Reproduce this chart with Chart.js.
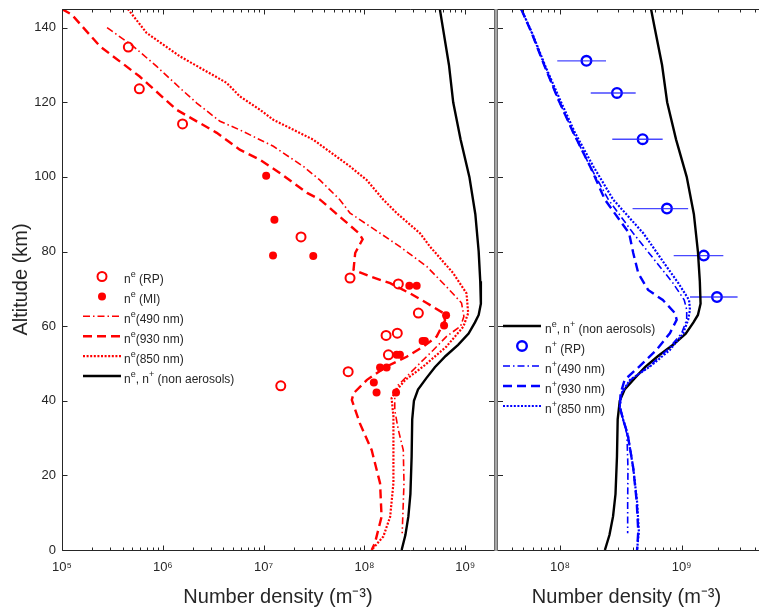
<!DOCTYPE html>
<html><head><meta charset="utf-8">
<script src="https://cdn.jsdelivr.net/npm/chart.js@4/dist/chart.umd.min.js"></script>
<style>html,body{margin:0;padding:0;background:#fff}#wrap{width:759px;height:616px;position:relative}</style>
</head><body><div id="wrap"><canvas id="c" width="759" height="616"></canvas></div>
<script>
// ---------- data (altitude in km, number density in m^-3) ----------
const altTicks = [0,20,40,60,80,100,120,140];
const xTicksLeft = [1e5,1e6,1e7,1e8,1e9];
const xTicksRight = [1e8,1e9];

// non aerosols n^e, n^+ (both panels)
const altBase = [145,140,130,120,110,100,90,80,72,66,63,61,58,55,52,49,46,43,40,35,25,15,9,4,0];
const nBase = [5.6e8,6.0e8,6.9e8,7.6e8,9.0e8,1.1e9,1.26e9,1.36e9,1.41e9,1.43e9,1.36e9,1.25e9,1.08e9,8.5e8,6.4e8,5.0e8,4.1e8,3.4e8,3.1e8,2.98e8,2.94e8,2.86e8,2.73e8,2.55e8,2.34e8];

// n^e 490 nm
const alt490 = [140,135,129.6,123.4,119.8,114.9,112.6,108.2,102.8,99.2,93.9,90.3,84.9,81.3,76,70.6,66.2,62.6,60,57.2,53.6,50.1,46.5,43.8,41.1,37.5,32.2,26.8,17.9,4.5];
const ne490 = [2.8e5,5.1e5,8.7e5,1.54e6,2.17e6,3.69e6,5.8e6,1.25e7,2.48e7,3.6e7,5.7e7,7.2e7,1.43e8,2.25e8,4.15e8,6.5e8,9.2e8,9.7e8,9.0e8,6.5e8,4.83e8,3.56e8,2.63e8,2.09e8,2.0e8,2.0e8,2.17e8,2.43e8,2.47e8,2.37e8];

// n^e 930 nm
const alt930 = [145,143.5,135,126.9,118,111.8,107.3,104.6,101,95.7,93.9,88.5,84.9,83.3,79.6,75.1,73.3,71.5,68.8,66.2,63.5,61.5,57.2,54.5,51.8,49.2,45.6,42,40.2,34,26.8,17.9,8.9,1.8,0];
const ne930 = [1.0e5,1.25e5,2.38e5,5.9e5,1.37e6,3.43e6,5.8e6,9.2e6,1.46e7,2.7e7,3.63e7,6.2e7,8.8e7,9.6e7,8.1e7,7.8e7,1.14e8,1.8e8,2.83e8,4.15e8,6.07e8,6.3e8,5.2e8,3.84e8,2.63e8,1.66e8,1.06e8,7.8e7,7.5e7,9.0e7,1.18e8,1.43e8,1.48e8,1.27e8,1.18e8];

// n^e 850 nm
const alt850 = [145,138.6,132.3,125.2,121.6,118,115.3,110,102.8,99.2,93.9,90.3,84.9,81.3,74.2,68.8,63.5,59.9,54.5,49.2,45.6,42.9,40.7,35.8,26.8,17.9,8.9,3.6,0];
const ne850 = [4.5e5,6.9e5,1.48e6,4.3e6,5.8e6,9.2e6,1.25e7,3.1e7,7.2e7,1.05e8,1.54e8,2.09e8,3.56e8,4.48e8,7.6e8,1.03e9,1.07e9,9.6e8,6.5e8,3.84e8,2.55e8,2.09e8,1.86e8,1.94e8,1.94e8,1.94e8,1.8e8,1.54e8,1.18e8];

// n^e measurements
const altRP = [134.8,123.6,114.2,83.9,72.9,71.3,63.5,58.1,57.5,52.3,47.8,44.0];
const neRP = [4.55e5,5.85e5,1.57e6,2.35e7,7.2e7,2.17e8,3.43e8,2.12e8,1.64e8,1.73e8,6.9e7,1.48e7];
const altMI = [100.3,88.5,78.9,78.8,70.8,70.8,62.9,60.2,56,56,52.3,52.3,48.9,48.9,44.9,42.2,42.2];
const neMI = [1.06e7,1.28e7,1.24e7,3.11e7,2.79e8,3.30e8,6.46e8,6.17e8,3.78e8,3.98e8,2.09e8,2.25e8,1.43e8,1.66e8,1.24e8,1.32e8,2.06e8];

// n^+ measurements (RP) with ranges
const altPRP = [131.1,122.5,110.1,91.5,78.9,67.8];
const npRP = [1.65e8,2.94e8,4.78e8,7.57e8,1.52e9,1.95e9];
const npLo = [9.5e7,1.79e8,2.69e8,3.95e8,8.6e8,1.17e9];
const npHi = [2.39e8,4.19e8,6.98e8,1.13e9,2.2e9,2.88e9];

// n^+ model curves
const altP490 = [145,138.6,129.6,120.7,111.8,102.8,93.9,84.9,76,71.5,67,64.4,61.7,58.1,53.6,49.2,45.6,42,38.4,35,31,22,13,4.5];
const np490 = [4.8e7,5.85e7,7.5e7,9.7e7,1.29e8,1.77e8,2.5e8,4.0e8,6.6e8,8.5e8,1.05e9,1.1e9,1.1e9,1.0e9,7.6e8,5.4e8,3.8e8,3.2e8,3.1e8,3.3e8,3.55e8,3.62e8,3.6e8,3.6e8];
const altP930 = [145,138.6,129.6,120.7,111.8,102.8,93.9,84.9,79.6,74.2,69.7,67,63.5,61.7,58.1,53.6,49.2,45.6,42,38.4,35,31,22,13,5,0];
const np930 = [4.8e7,5.85e7,7.5e7,9.7e7,1.29e8,1.77e8,2.34e8,3.7e8,4.0e8,4.4e8,5.3e8,7.0e8,8.8e8,9.1e8,8.0e8,6.2e8,4.5e8,3.4e8,3.15e8,3.1e8,3.3e8,3.6e8,4.0e8,4.27e8,4.4e8,4.3e8];
const altP850 = [145,138.6,129.6,120.7,111.8,102.8,93.9,84.9,76,71.5,67,64.4,61.7,58.1,53.6,49.2,45.6,42,38.4,35,31,22,13,5,0];
const np850 = [4.8e7,5.9e7,7.6e7,1.0e8,1.33e8,1.88e8,2.74e8,4.84e8,7.5e8,9.4e8,1.15e9,1.17e9,1.13e9,1.03e9,8.0e8,5.5e8,3.76e8,3.2e8,3.1e8,3.3e8,3.6e8,4.0e8,4.3e8,4.45e8,4.3e8];

// ---------- helpers ----------
const FONT = '"Liberation Sans", Arial, Helvetica, sans-serif';
const TXT = '#262626';
const RED = '#ff0000', BLUE = '#0000ff';
const pts = (xs, ys) => xs.map((v, i) => ({x: v, y: ys[i]}));
const SUP = {'0':'⁰','1':'¹','2':'²','3':'³','4':'⁴','5':'⁵','6':'⁶','7':'⁷','8':'⁸','9':'⁹','-':'⁻'};
const powLabel = v => '10' + String(Math.round(Math.log10(v))).split('').map(c => SUP[c]).join('');
const errPts = [];
altPRP.forEach((a, i) => { errPts.push({x: npLo[i], y: a}, {x: npHi[i], y: a}, {x: NaN, y: NaN}); });

const DASHDOT = [7,3,1.5,3], DASHED = [9,5], DOTTED = [2,1.6];

const line = (label, xs, ys, xAxis, color, width, dash) => ({
  label, data: pts(xs, ys), xAxisID: xAxis, yAxisID: 'y', showLine: true,
  borderColor: color, backgroundColor: color, borderWidth: width, borderDash: dash,
  pointRadius: 0, pointHoverRadius: 0, tension: 0, spanGaps: false
});

const datasets = [
  line('ne490', ne490, alt490, 'xL', RED, 1.6, DASHDOT),
  line('ne930', ne930, alt930, 'xL', RED, 2.4, DASHED),
  line('ne850', ne850, alt850, 'xL', RED, 2.2, DOTTED),
  line('baseL', nBase, altBase, 'xL', '#000000', 2.4, []),
  {label:'neRP', data: pts(neRP, altRP), xAxisID:'xL', yAxisID:'y', showLine:false,
   pointStyle:'circle', pointRadius:4.5, pointBorderWidth:2, pointBorderColor:RED, pointBackgroundColor:'rgba(0,0,0,0)'},
  {label:'neMI', data: pts(neMI, altMI), xAxisID:'xL', yAxisID:'y', showLine:false,
   pointStyle:'circle', pointRadius:4, pointBorderWidth:0, pointBorderColor:RED, pointBackgroundColor:RED},
  line('np490', np490, altP490, 'xR', BLUE, 1.6, DASHDOT),
  line('np930', np930, altP930, 'xR', BLUE, 2.4, DASHED),
  line('np850', np850, altP850, 'xR', BLUE, 2.2, DOTTED),
  line('baseR', nBase, altBase, 'xR', '#000000', 2.4, []),
  line('npErr', errPts.map(p => p.x), errPts.map(p => p.y), 'xR', 'rgba(40,40,255,0.85)', 1.4, []),
  {label:'npRP', data: pts(npRP, altPRP), xAxisID:'xR', yAxisID:'y', showLine:false,
   pointStyle:'circle', pointRadius:4.8, pointBorderWidth:2.4, pointBorderColor:BLUE, pointBackgroundColor:'rgba(0,0,0,0)'}
];
const dsByLabel = l => datasets.find(d => d.label === l);

// ---------- frame / ticks / legends plugin ----------
function richText(ctx, x, y, parts) {
  ctx.textBaseline = 'middle'; ctx.textAlign = 'left'; ctx.fillStyle = TXT;
  for (const p of parts) {
    if (p.s) { ctx.font = '9px ' + FONT; ctx.fillText(p.t, x, y - 5); }
    else { ctx.font = '12px ' + FONT; ctx.fillText(p.t, x, y); }
    x += ctx.measureText(p.t).width;
  }
}
function sampleLine(ctx, x0, x1, y, ds) {
  ctx.save(); ctx.beginPath(); ctx.setLineDash(ds.borderDash || []);
  ctx.strokeStyle = ds.borderColor; ctx.lineWidth = ds.borderWidth;
  ctx.moveTo(x0, y); ctx.lineTo(x1, y); ctx.stroke(); ctx.restore();
}
function sampleMarker(ctx, x, y, ds) {
  ctx.save(); ctx.beginPath(); ctx.arc(x, y, ds.pointRadius, 0, Math.PI * 2);
  if (ds.pointBorderWidth) { ctx.lineWidth = ds.pointBorderWidth; ctx.strokeStyle = ds.pointBorderColor; ctx.stroke(); }
  else { ctx.fillStyle = ds.pointBackgroundColor; ctx.fill(); }
  ctx.restore();
}
const legendLeft = [
  {ds:'neRP', type:'m', parts:[{t:'n'},{t:'e',s:1},{t:' (RP)'}]},
  {ds:'neMI', type:'m', parts:[{t:'n'},{t:'e',s:1},{t:' (MI)'}]},
  {ds:'ne490', type:'l', parts:[{t:'n'},{t:'e',s:1},{t:'(490 nm)'}]},
  {ds:'ne930', type:'l', parts:[{t:'n'},{t:'e',s:1},{t:'(930 nm)'}]},
  {ds:'ne850', type:'l', parts:[{t:'n'},{t:'e',s:1},{t:'(850 nm)'}]},
  {ds:'baseL', type:'l', parts:[{t:'n'},{t:'e',s:1},{t:', n'},{t:'+',s:1},{t:' (non aerosols)'}]}
];
const legendRight = [
  {ds:'baseR', type:'l', parts:[{t:'n'},{t:'e',s:1},{t:', n'},{t:'+',s:1},{t:' (non aerosols)'}]},
  {ds:'npRP', type:'m', parts:[{t:'n'},{t:'+',s:1},{t:' (RP)'}]},
  {ds:'np490', type:'l', parts:[{t:'n'},{t:'+',s:1},{t:'(490 nm)'}]},
  {ds:'np930', type:'l', parts:[{t:'n'},{t:'+',s:1},{t:'(930 nm)'}]},
  {ds:'np850', type:'l', parts:[{t:'n'},{t:'+',s:1},{t:'(850 nm)'}]}
];
function drawLegend(ctx, items, x0, x1, textX, y0, step) {
  items.forEach((it, i) => {
    const y = y0 + i * step, ds = dsByLabel(it.ds);
    if (it.type === 'm') sampleMarker(ctx, (x0 + x1) / 2, y, ds); else sampleLine(ctx, x0, x1, y, ds);
    richText(ctx, textX, y + 3.5, it.parts);
  });
}

const framePlugin = {
  id: 'frame',
  afterDraw(chart) {
    const ctx = chart.ctx, a = chart.chartArea;
    const xL = chart.scales.xL, xR = chart.scales.xR, ys = chart.scales.y;
    const T = Math.round(a.top) + 0.5, B = Math.round(a.bottom) + 0.5;
    ctx.save();
    ctx.strokeStyle = TXT; ctx.lineWidth = 1; ctx.setLineDash([]);
    ctx.beginPath();
    const L = Math.round(xL.left) + 0.5;
    ctx.moveTo(L, T); ctx.lineTo(L, B);
    ctx.moveTo(L, B); ctx.lineTo(a.right, B);
    ctx.moveTo(L, T); ctx.lineTo(a.right, T);
    const logTicks = sc => {
      const lo = Math.floor(Math.log10(sc.min)), hi = Math.ceil(Math.log10(sc.max));
      for (let d = lo; d <= hi; d++) for (let m = 1; m <= 9; m++) {
        const v = m * Math.pow(10, d);
        if (v < sc.min * 0.999 || v > sc.max * 1.001) continue;
        const px = Math.round(sc.getPixelForValue(v)) + 0.5;
        const len = m === 1 ? 5 : 3;
        ctx.moveTo(px, B); ctx.lineTo(px, B - len);
        ctx.moveTo(px, T); ctx.lineTo(px, T + len);
      }
    };
    logTicks(xL); logTicks(xR);
    const R = xL.right, RR = xR.left;
    altTicks.forEach(v => {
      const py = Math.round(ys.getPixelForValue(v)) + 0.5;
      ctx.moveTo(L, py); ctx.lineTo(L + 5, py);
      ctx.moveTo(R - 5, py); ctx.lineTo(R, py);
      ctx.moveTo(RR, py); ctx.lineTo(RR + 9, py);
    });
    ctx.stroke();
    // divider between the panels
    ctx.fillStyle = '#a6a6a6';
    ctx.fillRect(Math.round(R), a.top, 4, a.bottom - a.top + 1);
    ctx.strokeStyle = '#6e6e6e';
    ctx.beginPath();
    ctx.moveTo(Math.round(R) + 0.5, a.top); ctx.lineTo(Math.round(R) + 0.5, a.bottom + 1);
    ctx.moveTo(Math.round(R) + 3.5, a.top); ctx.lineTo(Math.round(R) + 3.5, a.bottom + 1);
    ctx.stroke();
    ctx.restore();
    // legends
    drawLegend(ctx, legendLeft, 83, 121, 124, 276.5, 19.9);
    drawLegend(ctx, legendRight, 503, 541, 545, 326, 20);
  }
};

const tickFont = {family: FONT, size: 13};
const titleFont = {family: FONT, size: 20};
const xScale = (min, max, weight, ticks) => ({
  type: 'logarithmic', position: 'bottom', stack: 'x', stackWeight: weight, min, max,
  afterBuildTicks: s => { s.ticks = ticks.filter(v => v >= min && v <= max).map(v => ({value: v})); },
  afterFit: s => { s.height = 66; s.paddingLeft = 0; s.paddingRight = 0; s.paddingTop = 0; s.paddingBottom = 0; },
  grid: {display: false, drawTicks: false}, border: {display: false},
  ticks: {autoSkip: false, maxRotation: 0, padding: 10, color: TXT, font: tickFont, callback: v => powLabel(v)},
  title: {display: true, text: 'Number density (m⁻³)', color: TXT, font: titleFont, padding: {top: 0, bottom: 7}}
});

new Chart(document.getElementById('c'), {
  type: 'scatter',
  data: {datasets},
  options: {
    responsive: false, animation: false, events: [],
    layout: {autoPadding: false, padding: {left: 0, top: 9, right: 0, bottom: 0}},
    plugins: {legend: {display: false}, tooltip: {enabled: false}},
    scales: {
      y: {
        type: 'linear', position: 'left', min: 0, max: 145,
        afterBuildTicks: s => { s.ticks = altTicks.map(v => ({value: v})); },
        afterFit: s => { s.width = 62; s.paddingTop = 0; s.paddingBottom = 0; s.paddingLeft = 0; s.paddingRight = 0; },
        grid: {display: false, drawTicks: false}, border: {display: false},
        ticks: {padding: 6, color: TXT, font: tickFont},
        title: {display: true, text: 'Altitude (km)', color: TXT, font: titleFont, padding: {top: 9, bottom: 0}}
      },
      xL: xScale(1e5, 1.93e9, 432, xTicksLeft),
      xR: xScale(2.87e7, 4.32e9, 265, xTicksRight)
    }
  },
  plugins: [framePlugin]
});
</script>
</body></html>
